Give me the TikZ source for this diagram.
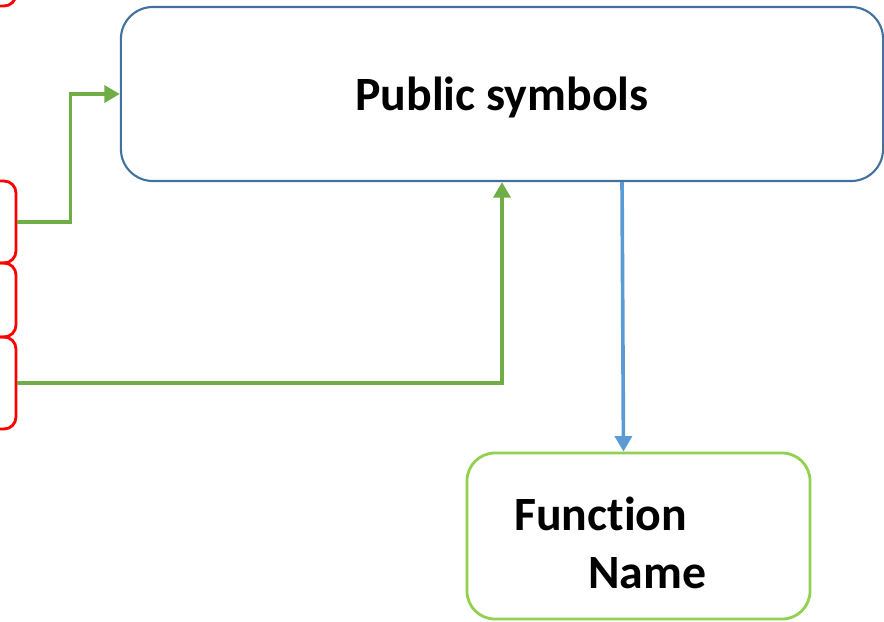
\documentclass[tikz,border=0pt]{standalone}
\usepackage{fontspec}
\setmainfont{Carlito}[Ligatures=NoCommon]
\usetikzlibrary{arrows.meta}

\definecolor{boxblue}{RGB}{65,113,156}
\definecolor{linkgreen}{RGB}{112,173,71}
\definecolor{linkblue}{RGB}{91,155,213}
\definecolor{fngreen}{RGB}{146,208,80}

\tikzset{
  bigtext/.style={font=\fontsize{34}{41}\selectfont\bfseries},
  symbox/.style={draw=boxblue, line width=1.5pt, rounded corners=0.8cm,
    minimum width=19.05cm, minimum height=4.35cm, text depth=0pt, bigtext},
  fnbox/.style={draw=fngreen, line width=2pt, rounded corners=0.7cm,
    minimum width=8.575cm, minimum height=4.15cm},
  srcbox/.style={draw=red, line width=2pt, rounded corners=0.3cm,
    minimum width=1.9cm, inner sep=0pt},
  greenlink/.style={draw=linkgreen, line width=2.6pt,
    -{Triangle[length=11pt,width=12pt]}},
  bluelink/.style={draw=linkblue, line width=2.6pt,
    -{Triangle[length=11pt,width=12pt]}}
}

\begin{document}
\begin{tikzpicture}[x=0.025cm,y=-0.025cm]
  \useasboundingbox (0,0) rectangle (884,621);
  \clip (0,0) rectangle (884,621);

  % boxes
  \node[symbox] (pub) at (502,94) {Public symbols};
  \node[fnbox] (fn) at (638.5,536) {};
  \node[bigtext, align=left, anchor=base west, inner sep=0pt] (fnname) at (514,588)
    {Function\\\hspace*{52.6pt}Name};

  % sources on the left, cut by the edge
  \node[srcbox, minimum height=2.15cm] (src0) at (-22,-37) {};
  \node[srcbox, minimum height=2.05cm] (src1) at (-22,222) {};
  \node[srcbox, minimum height=1.85cm] (src2) at (-22,300) {};
  \node[srcbox, minimum height=2.3cm] (src3) at (-22,383) {};

  % links
  \draw[greenlink] (src1.east) -- ++(53,0) |- (pub.west);
  \draw[greenlink] (src3.east) -| (pub.south);
  \draw[bluelink] ([xshift=3cm]pub.south) -- ([xshift=-0.375cm]fn.north);
\end{tikzpicture}
\end{document}
